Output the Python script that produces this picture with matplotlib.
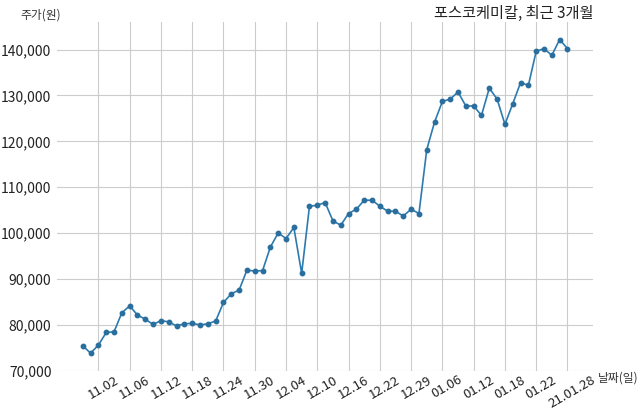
import matplotlib
matplotlib.use("Agg")
import matplotlib.pyplot as plt
import matplotlib.transforms as mtransforms

plt.rcParams['font.family'] = ['Noto Sans CJK KR', 'DejaVu Sans']

# 종가 (10.29 ~ 21.01.28, 거래일 기준)
prices = [75400, 73800, 75550, 78300, 78450, 82600, 84100, 82100, 81200, 80050,
          80900, 80600, 79750, 80200, 80300, 79950, 80200, 80800, 84850, 86750,
          87550, 91900, 91700, 91800, 96950, 100000, 98800, 101200, 91200, 105850,
          106050, 106650, 102650, 101700, 104250, 105200, 107150, 107150, 105850, 104750,
          104750, 103700, 105200, 104250, 118200, 124200, 128700, 129200, 130750, 127700,
          127700, 125650, 131600, 129200, 123700, 128200, 132800, 132200, 139650, 140200,
          138750, 142200, 140200]
tick_labels = ['11.02', '11.06', '11.12', '11.18', '11.24', '11.30', '12.04', '12.10',
               '12.16', '12.22', '12.29', '01.06', '01.12', '01.18', '01.22', '21.01.28']
y_ticks = [70000, 80000, 90000, 100000, 110000, 120000, 130000, 140000]

x = list(range(len(prices)))
tick_pos = list(range(2, len(prices), 4))

fig = plt.figure(figsize=(6.4, 4.09), dpi=100)
ax = fig.add_axes([0.089, 0.094, 0.838, 0.852])

ax.plot(x, prices, color='#2b7bb0', linewidth=1.2, marker='o', markersize=3.2,
        markerfacecolor='#2a6e9e', markeredgecolor='#2a6e9e')

ax.set_xlim(-3.3, 65.3)
ax.set_ylim(70000, 146000)
ax.set_yticks(y_ticks)
ax.set_yticklabels(['{:,}'.format(v) for v in y_ticks], fontsize=10)
ax.set_xticks(tick_pos)
ax.set_xticklabels(tick_labels, fontsize=9.5, rotation=30, ha='center')
ax.tick_params(length=0, pad=4, colors='#222222')
ax.tick_params(axis='x', pad=2)

# 라벨을 살짝 오른쪽으로
shift = mtransforms.ScaledTranslation(5 / 100, 0, fig.dpi_scale_trans)
for lbl in ax.get_xticklabels():
    lbl.set_transform(lbl.get_transform() + shift)

ax.grid(True, color='#cccccc', linewidth=0.8)
ax.set_axisbelow(True)
for s in ax.spines.values():
    s.set_visible(False)

fig.text(0.063, 0.963, '주가(원)', fontsize=8.5, ha='center', va='center', color='#333333')
fig.text(0.927, 0.968, '포스코케미칼, 최근 3개월', fontsize=11, ha='right', va='center', color='#222222')
fig.text(0.934, 0.075, '날짜(일)', fontsize=8.5, ha='left', va='center', color='#333333')

fig.savefig('out.png', dpi=100)
